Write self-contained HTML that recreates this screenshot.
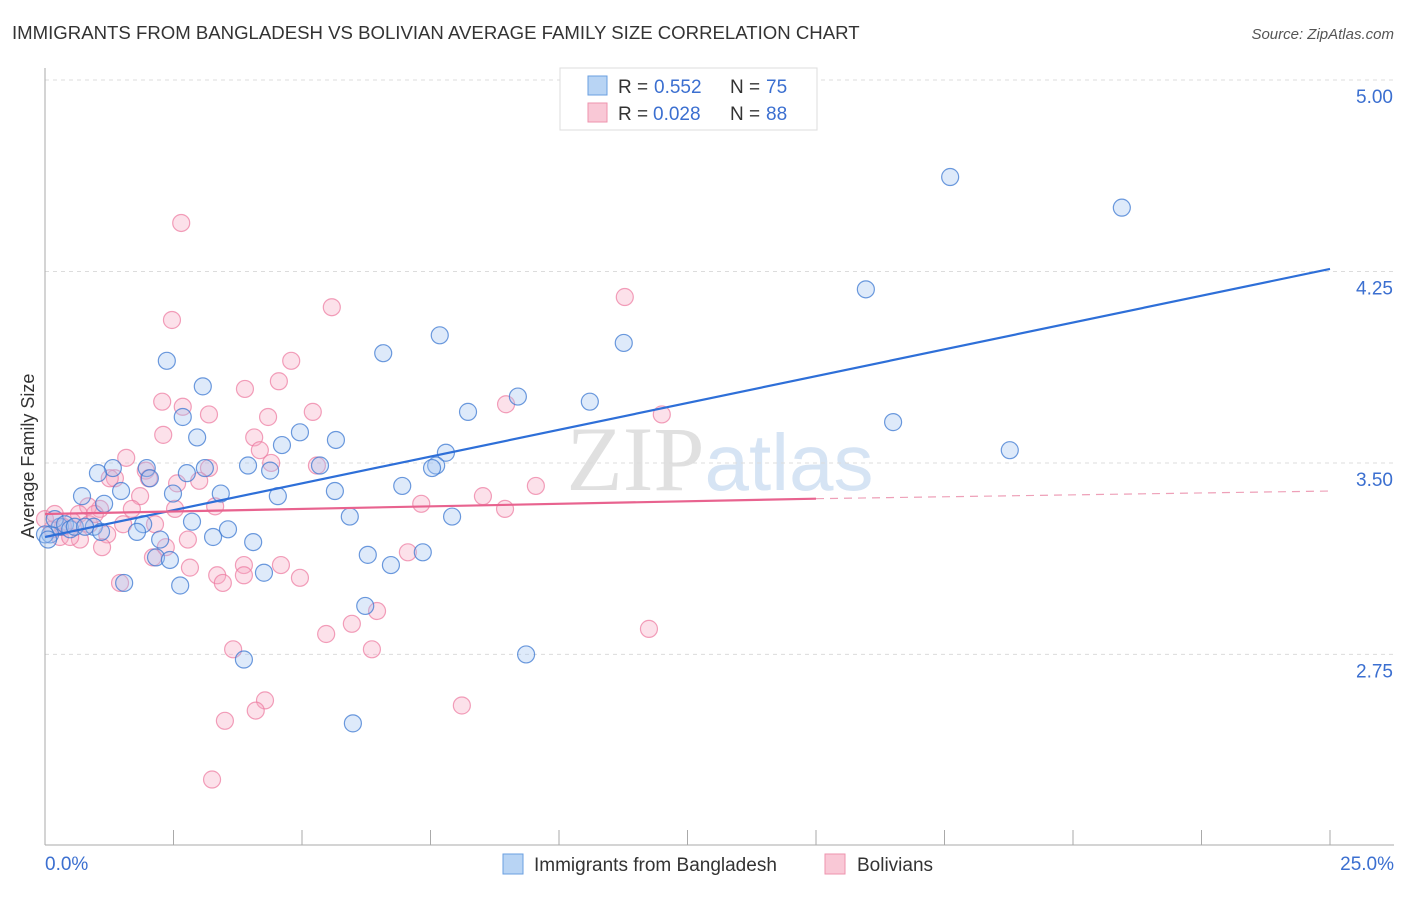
<!DOCTYPE html>
<html><head><meta charset="utf-8"><style>
body{margin:0;background:#fff;font-family:"Liberation Sans",sans-serif;}
svg text{font-family:"Liberation Sans",sans-serif;}
</style></head><body>
<svg id="chart" width="1406" height="892" viewBox="0 0 1406 892" xmlns="http://www.w3.org/2000/svg">
<text x="12" y="39" font-size="18.6" fill="#333">IMMIGRANTS FROM BANGLADESH VS BOLIVIAN AVERAGE FAMILY SIZE CORRELATION CHART</text>
<text x="1394" y="39" font-size="15" fill="#555" text-anchor="end" style="font-style:italic">Source: ZipAtlas.com</text>
<text x="720" y="490" font-size="92" fill="#e4e4e4" text-anchor="middle" font-family="Liberation Serif"><tspan fill="#e0e0e0" font-family="Liberation Serif">ZIP</tspan><tspan fill="#d6e4f4" font-family="Liberation Sans" font-size="80">atlas</tspan></text>
<g id="grid"></g>
<g id="axes"></g>
<g id="pink"></g>
<g id="blue"></g>
<g id="lines"></g>
<text transform="translate(34,456) rotate(-90)" font-size="18" fill="#333" text-anchor="middle">Average Family Size</text>
<g>
<rect x="560" y="68" width="257" height="62" fill="#fff" stroke="#ddd"/>
<rect x="588" y="76" width="19" height="19" fill="#b8d4f4" stroke="#6a9fe0"/>
<rect x="588" y="103" width="19" height="19" fill="#f9c8d6" stroke="#ee93ae"/>
<text x="618" y="93" font-size="19" fill="#333">R = </text>
<text x="654" y="93" font-size="19" fill="#3b6fd0">0.552</text>
<text x="730" y="93" font-size="19" fill="#333">N = </text>
<text x="766" y="93" font-size="19" fill="#3b6fd0">75</text>
<text x="618" y="120" font-size="19" fill="#333">R = </text>
<text x="653" y="120" font-size="19" fill="#3b6fd0">0.028</text>
<text x="730" y="120" font-size="19" fill="#333">N = </text>
<text x="766" y="120" font-size="19" fill="#3b6fd0">88</text>
</g>
<g>
<rect x="503" y="854" width="20" height="20" fill="#b8d4f4" stroke="#6a9fe0"/>
<text x="534" y="871" font-size="19" fill="#333">Immigrants from Bangladesh</text>
<rect x="825" y="854" width="20" height="20" fill="#f9c8d6" stroke="#ee93ae"/>
<text x="857" y="871" font-size="19" fill="#333">Bolivians</text>
</g>
</svg>
<script>
const xTicks=[0,2.5,5,7.5,10,12.5,15,17.5,20,22.5,25];
const yTicks=[2.75,3.5,4.25,5.0];
const yTickLabels=["2.75","3.50","4.25","5.00"];
const blueX=[17.61,20.95,15.97,7.68,11.26,6.58,2.37,3.07,9.20,10.60,8.23,2.68,16.50,2.96,4.96,5.66,4.61,7.80,18.77,3.95,4.38,5.35,7.61,7.53,1.32,1.98,1.03,2.76,3.11,2.04,6.95,0.72,1.48,2.49,3.42,4.53,5.64,1.15,5.93,7.92,2.86,1.91,0.95,3.56,3.27,1.09,1.79,2.24,4.05,0.29,0.10,0.19,0.39,0.49,6.28,6.73,7.35,2.16,2.43,4.26,1.54,2.63,6.23,9.36,3.87,5.99,0.58,0.78,0,0.06];
const blueY=[4.62,4.50,4.18,4.00,3.97,3.93,3.90,3.80,3.76,3.74,3.70,3.68,3.66,3.60,3.62,3.59,3.57,3.54,3.55,3.49,3.47,3.49,3.49,3.48,3.48,3.48,3.46,3.46,3.48,3.44,3.41,3.37,3.39,3.38,3.38,3.37,3.39,3.34,3.29,3.29,3.27,3.26,3.25,3.24,3.21,3.23,3.23,3.20,3.19,3.25,3.22,3.28,3.26,3.24,3.14,3.10,3.15,3.13,3.12,3.07,3.03,3.02,2.94,2.75,2.73,2.48,3.25,3.25,3.22,3.20];
const pinkX=[2.65,11.28,5.58,2.47,4.79,4.55,3.89,2.28,8.97,2.68,3.19,12.00,5.21,2.30,4.34,4.07,4.18,1.58,4.40,3.19,1.96,1.36,2.02,2.57,3.00,9.55,8.52,1.26,1.85,1.07,0.84,7.32,8.95,0.66,0.53,1.69,2.53,3.31,2.14,1.52,1.21,0.68,0.29,0.14,0,0.19,2.78,2.35,1.11,2.10,7.06,3.87,4.59,2.82,3.87,3.35,4.96,1.46,3.46,6.46,5.97,5.47,11.75,3.66,6.36,4.28,4.10,3.50,8.11,3.25,5.29,0.86,0.97,0.49,0.35];
const pinkY=[4.44,4.15,4.11,4.06,3.90,3.82,3.79,3.74,3.73,3.72,3.69,3.69,3.70,3.61,3.68,3.60,3.55,3.52,3.50,3.48,3.47,3.44,3.44,3.42,3.43,3.41,3.37,3.44,3.37,3.32,3.33,3.34,3.32,3.30,3.27,3.32,3.32,3.33,3.26,3.26,3.22,3.20,3.21,3.24,3.28,3.30,3.20,3.17,3.17,3.13,3.15,3.10,3.10,3.09,3.06,3.06,3.05,3.03,3.03,2.92,2.87,2.83,2.85,2.77,2.77,2.57,2.53,2.49,2.55,2.26,3.49,3.26,3.30,3.21,3.25];
const blueTrend=[[0,3.21],[25,4.26]];
const pinkTrendSolid=[[0,3.30],[15,3.36]];
const pinkTrendDash=[[15,3.36],[25,3.39]];
const NS="http://www.w3.org/2000/svg";
const X0=45,X1=1330,Y5=80,PXV=255.3;
function sx(v){return X0+(v/25)*(X1-X0);}
function sy(v){return Y5+(5-v)*PXV;}
function mk(tag,attrs,parent){const e=document.createElementNS(NS,tag);for(const k in attrs)e.setAttribute(k,attrs[k]);parent.appendChild(e);return e;}
const grid=document.getElementById('grid'),axes=document.getElementById('axes');
yTicks.forEach((t,i)=>{
  const l=mk('line',{x1:X0,x2:1394,y1:sy(t),y2:sy(t),stroke:'#dcdcdc','stroke-dasharray':'4,4'},grid);
  
  
  const tx=mk('text',{x:1393,y:sy(t)+23,'font-size':19,fill:'#3b6fd0','text-anchor':'end'},axes);
  tx.textContent=yTickLabels[i];
  
  
});
const ya=mk('line',{x1:X0,x2:X0,y1:68,y2:845,stroke:'#aaa'},axes);


const xa=mk('line',{x1:X0,x2:1394,y1:845,y2:845,stroke:'#aaa'},axes);


xTicks.forEach(t=>{
  const l=mk('line',{x1:sx(t),x2:sx(t),y1:830,y2:845,stroke:'#aaa'},axes);
  
  
});
const xl0=mk('text',{x:45,y:870,'font-size':19,fill:'#3b6fd0'},axes);xl0.textContent='0.0%';


const xl1=mk('text',{x:1394,y:870,'font-size':19,fill:'#3b6fd0','text-anchor':'end'},axes);xl1.textContent='25.0%';


function dots(xs,ys,g,fill,stroke,name){xs.forEach((x,i)=>{
  const c=mk('circle',{cx:sx(x),cy:sy(ys[i]),r:8.5,fill:fill,stroke:stroke,'stroke-width':1.2},g);
  
  
});}
dots(pinkX,pinkY,document.getElementById('pink'),'rgba(246,170,194,0.35)','rgba(236,120,158,0.7)','bolivians-point');
dots(blueX,blueY,document.getElementById('blue'),'rgba(160,196,240,0.35)','rgba(60,120,210,0.75)','bangladesh-point');
const lg=document.getElementById('lines');
function tl(p,color,dash,name){const l=mk('line',{x1:sx(p[0][0]),y1:sy(p[0][1]),x2:sx(p[1][0]),y2:sy(p[1][1]),stroke:color,'stroke-width':dash?1.2:2.2},lg);
  if(dash)l.setAttribute('stroke-dasharray','8,6');
  
  }
tl(blueTrend,'#2e6fd8',false,'bangladesh-trend-line');
tl(pinkTrendSolid,'#e8638f',false,'bolivians-trend-line');
tl(pinkTrendDash,'#eea0b8',true,'bolivians-trend-extension');
</script>
</body></html>
